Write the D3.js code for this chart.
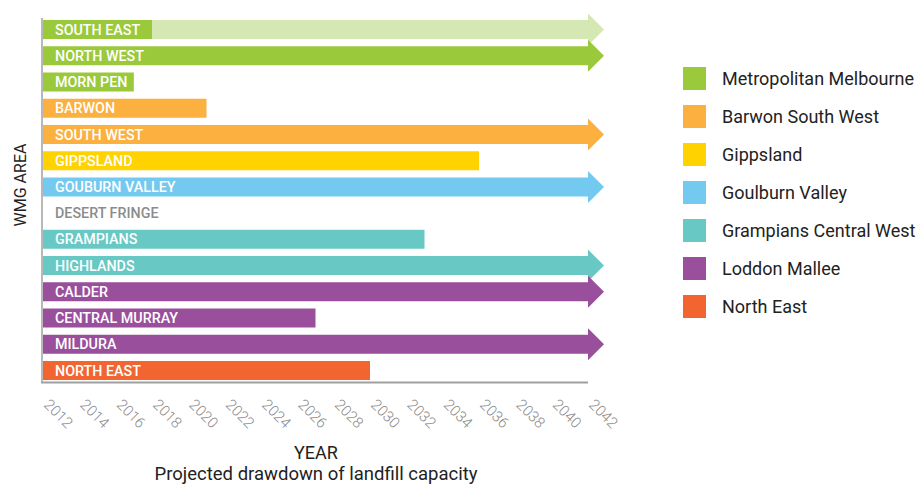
<!DOCTYPE html>
<html>
<head>
<meta charset="utf-8">
<script src="https://cdn.jsdelivr.net/npm/d3@7"></script>
<style>
  html, body { margin: 0; padding: 0; background: #fff; }
  svg { display: block; font-family: Roboto, "Noto Sans", sans-serif; }
</style>
</head>
<body>
<svg id="chart" width="924" height="484"></svg>
<script>
// Waste management group areas, top to bottom
const areas = ["SOUTH EAST", "NORTH WEST", "MORN PEN", "BARWON", "SOUTH WEST", "GIPPSLAND",
  "GOUBURN VALLEY", "DESERT FRINGE", "GRAMPIANS", "HIGHLANDS", "CALDER", "CENTRAL MURRAY",
  "MILDURA", "NORTH EAST"];
// Region each area belongs to
const areaRegion = ["Metropolitan Melbourne", "Metropolitan Melbourne", "Metropolitan Melbourne",
  "Barwon South West", "Barwon South West", "Gippsland", "Goulburn Valley", null,
  "Grampians Central West", "Grampians Central West", "Loddon Mallee", "Loddon Mallee",
  "Loddon Mallee", "North East"];
// Year landfill capacity runs out (null = no landfill data)
const capacityYear = [2018, 2042, 2017, 2021, 2042, 2036, 2042, null, 2033, 2042, 2042, 2027, 2042, 2030];
// Capacity lasts past the end of the horizon
const beyondHorizon = [false, true, false, false, true, false, true, false, false, true, true, false, true, false];
// Additional (planned) capacity extending the area's drawdown
const extendedYear = [2042, null, null, null, null, null, null, null, null, null, null, null, null, null];
const extendedBeyond = [true, false, false, false, false, false, false, false, false, false, false, false, false, false];

// Legend regions and colours
const regions = ["Metropolitan Melbourne", "Barwon South West", "Gippsland", "Goulburn Valley",
  "Grampians Central West", "Loddon Mallee", "North East"];
const regionColors = ["#9bc93c", "#fbb040", "#ffd200", "#73c9f0", "#67c8c4", "#994f9c", "#f26531"];
const extendedColor = "#d5e7b3";

const yearTicks = d3.range(2012, 2043, 2);

const svg = d3.select("#chart");
const color = d3.scaleOrdinal().domain(regions).range(regionColors);

const x = d3.scaleLinear().domain([2012, 2042]).range([43, 588]);
const y = d3.scaleBand().domain(areas).range([16.4, 383.6]).paddingInner(0.275).paddingOuter(0.1375);

const bw = y.bandwidth();
const headLen = 16, headOver = 6.5;

function barPath(y0, x0, x1, arrow) {
  const p = d3.path();
  p.moveTo(x0, y0);
  p.lineTo(x1, y0);
  if (arrow) {
    p.lineTo(x1, y0 - headOver);
    p.lineTo(x1 + headLen, y0 + bw / 2);
    p.lineTo(x1, y0 + bw + headOver);
  }
  p.lineTo(x1, y0 + bw);
  p.lineTo(x0, y0 + bw);
  p.closePath();
  return p.toString();
}

const rows = areas.map((a, i) => ({
  area: a, region: areaRegion[i], year: capacityYear[i], beyond: beyondHorizon[i],
  ext: extendedYear[i], extBeyond: extendedBeyond[i]
}));

const g = svg.append("g");

rows.forEach(d => {
  const y0 = y(d.area);
  if (d.ext != null) {
    g.append("path").attr("d", barPath(y0, x(2012), x(d.ext), d.extBeyond)).attr("fill", extendedColor);
  }
  if (d.year != null) {
    g.append("path").attr("d", barPath(y0, x(2012), x(d.year), d.beyond)).attr("fill", color(d.region));
  }
});

// Area labels inside the bars
g.selectAll("text.area").data(rows).join("text")
  .attr("class", "area")
  .attr("x", 55)
  .attr("y", d => y(d.area) + bw / 2)
  .attr("dy", "0.36em")
  .attr("fill", d => d.year == null ? "#8c8c8c" : "#fff")
  .attr("font-size", 14.3)
  .attr("font-weight", 500)
  .text(d => d.area);

// Axes frame
svg.append("line").attr("x1", 42).attr("x2", 42).attr("y1", 18).attr("y2", 383)
  .attr("stroke", "#a0a0a0").attr("stroke-width", 1.5);
svg.append("line").attr("x1", 41).attr("x2", 588).attr("y1", 382.5).attr("y2", 382.5)
  .attr("stroke", "#a0a0a0").attr("stroke-width", 2);

// Rotated year tick labels
svg.append("g").selectAll("text").data(yearTicks).join("text")
  .attr("transform", d => `translate(${x(d)},${405.5}) rotate(45)`)
  .attr("fill", "#8a8a8a")
  .attr("font-size", 15)
  .attr("font-weight", 300)
  .text(d => d);

// Axis titles
svg.append("text").attr("x", 316).attr("y", 459).attr("text-anchor", "middle")
  .attr("font-size", 18).attr("fill", "#222").text("YEAR");
svg.append("text").attr("x", 316).attr("y", 480).attr("text-anchor", "middle")
  .attr("font-size", 18.5).attr("fill", "#222").text("Projected drawdown of landfill capacity");
svg.append("text").attr("transform", "translate(26,185) rotate(-90)").attr("text-anchor", "middle")
  .attr("font-size", 16).attr("fill", "#222").text("WMG AREA");

// Legend
const lg = svg.append("g").selectAll("g").data(regions).join("g")
  .attr("transform", (d, i) => `translate(683,${67 + i * 38})`);
lg.append("rect").attr("width", 23).attr("height", 23).attr("fill", d => color(d));
lg.append("text").attr("x", 39).attr("y", 11.5).attr("dy", "0.36em")
  .attr("font-size", 18).attr("fill", "#222").text(d => d);
</script>
</body>
</html>
